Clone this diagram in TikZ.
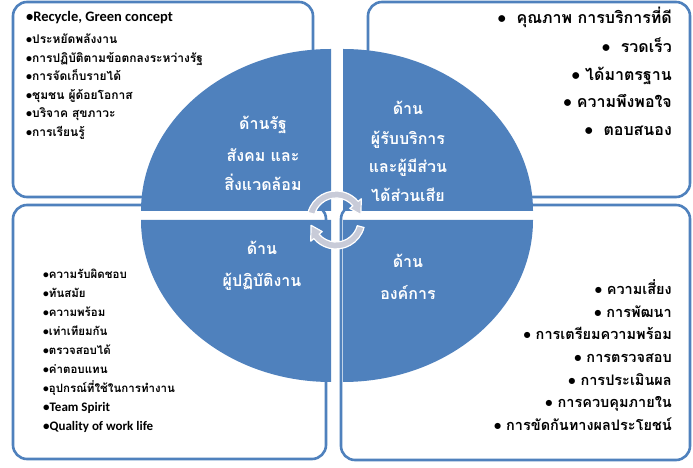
\documentclass[tikz,border=0pt]{standalone}
\usepackage{fontspec}
\setmainfont{Carlito}
\newfontfamily\thai[Script=Thai]{Loma}
\newfontfamily\lat{Carlito}
\definecolor{qblue}{RGB}{79,129,189}
\definecolor{bblue}{RGB}{79,129,189}
\definecolor{agray}{RGB}{200,203,216}
\newcommand{\bl}{{\lat\textbullet}}
\begin{document}
\begin{tikzpicture}[x=1pt,y=1pt,
  box/.style={draw=bblue,line width=2.6pt,rounded corners=14pt},
  quad/.style={fill=qblue},
  carrow/.style={fill=agray,draw=white,line width=1.2pt,line join=round},
  tlitem/.style={anchor=base west,inner sep=0pt,font=\thai\bfseries\fontsize{12}{14}\selectfont},
  tlatin/.style={anchor=base west,inner sep=0pt,font=\lat\bfseries\fontsize{14.5}{16}\selectfont},
  tritem/.style={anchor=base east,inner sep=0pt,font=\thai\bfseries\fontsize{16}{18}\selectfont},
  blitem/.style={anchor=base west,inner sep=0pt,font=\thai\bfseries\fontsize{11.5}{13}\selectfont},
  blatin/.style={anchor=base west,inner sep=0pt,font=\lat\bfseries\fontsize{13}{15}\selectfont},
  britem/.style={anchor=base east,inner sep=0pt,font=\thai\bfseries\fontsize{14.5}{17}\selectfont},
  qlabel/.style={anchor=base,inner sep=0pt,text=white,font=\thai\bfseries\fontsize{16}{18}\selectfont}]
\useasboundingbox (0,0) rectangle (693,468);
\fill[white] (0,0) rectangle (693,468);
% background boxes
\draw[box] (13,271) rectangle (313,466);
\draw[box] (368,271) rectangle (690,466);
\draw[box] (13,9) rectangle (326,263);
\draw[box] (341,8) rectangle (690,263);
% quadrants
\fill[quad] (331,257) -- (141,257) arc[start angle=180,end angle=90,x radius=190,y radius=162] -- cycle;
\fill[quad] (343,257) -- (343,419) arc[start angle=90,end angle=0,x radius=190,y radius=162] -- cycle;
\fill[quad] (331,248) -- (141,248) arc[start angle=180,end angle=270,x radius=190,y radius=162] -- cycle;
\fill[quad] (343,248) -- (533,248) arc[start angle=0,end angle=-90,x radius=190,y radius=162] -- cycle;
% centre circular arrows
\begin{scope}[shift={(336,248)}]
\draw[carrow] (165:29) arc[start angle=165,end angle=40,radius=29] -- (40:33) -- (12:25.5) -- (40:18) -- (40:22) arc[start angle=40,end angle=165,radius=22] -- cycle;
\draw[carrow] (-15:29) arc[start angle=-15,end angle=-140,radius=29] -- (-140:33) -- (-168:25.5) -- (-140:18) -- (-140:22) arc[start angle=-140,end angle=-15,radius=22] -- cycle;
\end{scope}
% quadrant labels
\node[qlabel] (q1a) at (263,338.5) {ด้านรัฐ};
\node[qlabel] (q1b) at (263,306.5) {สังคม และ};
\node[qlabel] (q1c) at (263,277.5) {สิ่งแวดล้อม};
\node[qlabel] (q2a) at (408,353.5) {ด้าน};
\node[qlabel] (q2b) at (408,323.5) {ผู้รับบริการ};
\node[qlabel] (q2c) at (408,295.5) {และผู้มีส่วน};
\node[qlabel] (q2d) at (408,266.5) {ได้ส่วนเสีย};
\node[qlabel] (q3a) at (262,213.5) {ด้าน};
\node[qlabel] (q3b) at (262,181.5) {ผู้ปฏิบัติงาน};
\node[qlabel] (q4a) at (408,200.5) {ด้าน};
\node[qlabel] (q4b) at (408,168.5) {องค์การ};
% top-left list
\node[tlatin] (a0) at (26,446) {\bl Recycle, Green concept};
\node[tlitem] (a1) at (26,424.5) {\bl ประหยัดพลังงาน};
\node[tlitem] (a2) at (26,405.9) {\bl การปฏิบัติตามข้อตกลงระหว่างรัฐ};
\node[tlitem] (a3) at (26,387.3) {\bl การจัดเก็บรายได้};
\node[tlitem] (a4) at (26,368.7) {\bl ชุมชน ผู้ด้อยโอกาส};
\node[tlitem] (a5) at (26,350.1) {\bl บริจาค สุขภาวะ};
\node[tlitem] (a6) at (26,331.5) {\bl การเรียนรู้};
% top-right list
\node[tritem] (b1) at (672,444) {\bl\ \ คุณภาพ การบริการที่ดี};
\node[tritem] (b2) at (672,415) {\bl\ \ รวดเร็ว};
\node[tritem] (b3) at (672,387) {\bl\ ได้มาตรฐาน};
\node[tritem] (b4) at (672,360) {\bl\ ความพึงพอใจ};
\node[tritem] (b5) at (672,332) {\bl\ \ ตอบสนอง};
% bottom-left list
\node[blitem] (c1) at (43,189.8) {\bl ความรับผิดชอบ};
\node[blitem] (c2) at (43,170.8) {\bl ทันสมัย};
\node[blitem] (c3) at (43,151.8) {\bl ความพร้อม};
\node[blitem] (c4) at (43,132.8) {\bl เท่าเทียมกัน};
\node[blitem] (c5) at (43,113.8) {\bl ตรวจสอบได้};
\node[blitem] (c6) at (43,94.8) {\bl ค่าตอบแทน};
\node[blitem] (c7) at (43,75.8) {\bl อุปกรณ์ที่ใช้ในการทำงาน};
\node[blatin] (c8) at (43,56) {\bl Team Spirit};
\node[blatin] (c9) at (43,37) {\bl Quality of work life};
% bottom-right list
\node[britem] (d1) at (672,173.5) {\bl\ ความเสี่ยง};
\node[britem] (d2) at (672,150.8) {\bl\ การพัฒนา};
\node[britem] (d3) at (672,128.2) {\bl\ การเตรียมความพร้อม};
\node[britem] (d4) at (672,105.5) {\bl\ การตรวจสอบ};
\node[britem] (d5) at (672,82.8) {\bl\ การประเมินผล};
\node[britem] (d6) at (672,60.2) {\bl\ การควบคุมภายใน};
\node[britem] (d7) at (672,37.5) {\bl\ การขัดกันทางผลประโยชน์};
\end{tikzpicture}
\end{document}
